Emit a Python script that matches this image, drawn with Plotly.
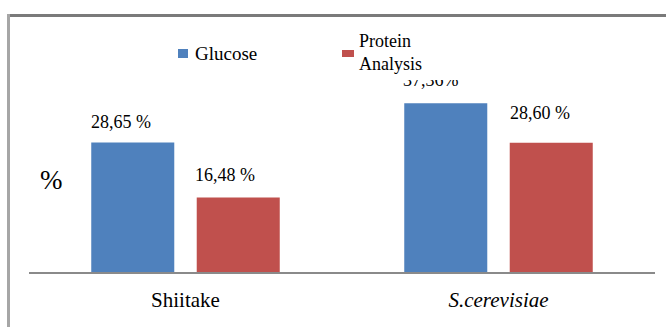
import plotly.graph_objects as go

categories = ["Shiitake", "S.cerevisiae"]
tick_labels = ["Shiitake", "<i>S.cerevisiae</i>"]
series_names = ["Glucose", "Protein Analysis"]
glucose = [28.65, 37.36]
protein = [16.48, 28.60]
label_suffix = [[" %", "%"], [" %", " %"]]

colors = ["#4F81BD", "#C0504D"]
series_values = [glucose, protein]

W_FIG, H_FIG = 666, 327
ML, MR, MT, MB = 29, 11, 20, 55
PW = W_FIG - ML - MR
PH = H_FIG - MT - MB
Y_MAX = PH / 4.52

def px_x(x):
    return (x - ML) / PW

def px_y(y):
    return (H_FIG - MB - y) / PH

FONT = "Liberation Serif, Times New Roman, serif"
TXT = "#000000"

fig = go.Figure()
for name, vals, col in zip(series_names, series_values, colors):
    fig.add_trace(go.Bar(
        x=categories, y=vals, name=name,
        marker=dict(color=col, line=dict(width=0)),
        showlegend=False, hoverinfo="skip",
    ))

# value labels (offsets relative to bar tops)
bar_offset = [-52.75, 52.75]
label_dx = [[-12, -15], [-13, -11]]
label_dy = [[21, 23], [23, 30]]
annotations = []
for i, vals in enumerate(series_values):
    for j, v in enumerate(vals):
        txt = f"{v:.2f}".replace(".", ",") + label_suffix[i][j]
        annotations.append(dict(
            x=categories[j], y=v, xref="x", yref="y", text=txt,
            showarrow=False, xanchor="center", yanchor="middle",
            xshift=bar_offset[i] + label_dx[i][j], yshift=label_dy[i][j],
            font=dict(family=FONT, size=18, color=TXT),
        ))

# y-axis unit label
annotations.append(dict(
    x=px_x(51.5), y=px_y(180), xref="paper", yref="paper", text="%",
    showarrow=False, xanchor="center", yanchor="middle",
    font=dict(family=FONT, size=27, color=TXT),
))

# legend background box (white), as in the original legend area
annotations.append(dict(
    x=px_x(170), y=px_y(30), xref="paper", yref="paper", text=" ",
    showarrow=False, xanchor="left", yanchor="top",
    width=305, height=50, bgcolor="white", borderpad=0, borderwidth=0,
))

# legend entries built from the series names/colours
swatch = [dict(x=178, y=49, w=10, h=9), dict(x=342, y=50, w=12, h=7)]
text_left = [193, 357]
text_mid = [54, 53]
for i, name in enumerate(series_names):
    s = swatch[i]
    annotations.append(dict(
        x=px_x(s["x"]), y=px_y(s["y"]), xref="paper", yref="paper", text=" ",
        showarrow=False, xanchor="left", yanchor="top",
        width=s["w"], height=s["h"], bgcolor=colors[i], borderpad=0, borderwidth=0,
        font=dict(size=4),
    ))
    annotations.append(dict(
        x=px_x(text_left[i]), y=px_y(text_mid[i]), xref="paper", yref="paper",
        text=name.replace(" ", "<br>"), align="left",
        showarrow=False, xanchor="left", yanchor="middle",
        font=dict(family=FONT, size=19 if i == 0 else 18, color=TXT),
    ))

shapes = [
    dict(type="line", xref="paper", yref="paper",
         x0=px_x(7), x1=px_x(666), y0=px_y(15.5), y1=px_y(15.5),
         line=dict(color="#7a7a7a", width=3)),
    dict(type="line", xref="paper", yref="paper",
         x0=px_x(8.5), x1=px_x(8.5), y0=px_y(14), y1=px_y(327),
         line=dict(color="#a6a6a6", width=3)),
]

fig.update_layout(
    width=W_FIG, height=H_FIG,
    margin=dict(l=ML, r=MR, t=MT, b=MB, pad=0),
    paper_bgcolor="white", plot_bgcolor="white",
    barmode="group", bargap=0.326, bargroupgap=0.213,
    showlegend=False,
    font=dict(family=FONT, color=TXT),
    xaxis=dict(
        type="category", tickmode="array", tickvals=categories, ticktext=tick_labels,
        showline=True, linecolor="#8a8a8a", linewidth=2,
        ticks="", showgrid=False, zeroline=False,
        tickfont=dict(family=FONT, size=21, color=TXT),
        ticklabelstandoff=8,
    ),
    yaxis=dict(range=[0, Y_MAX], visible=False, showgrid=False, zeroline=False),
    annotations=annotations,
    shapes=shapes,
)

post = "document.body.style.margin='0';document.body.style.padding='0';"

fig.write_html("out.html", config={"displayModeBar": False}, post_script=post)
